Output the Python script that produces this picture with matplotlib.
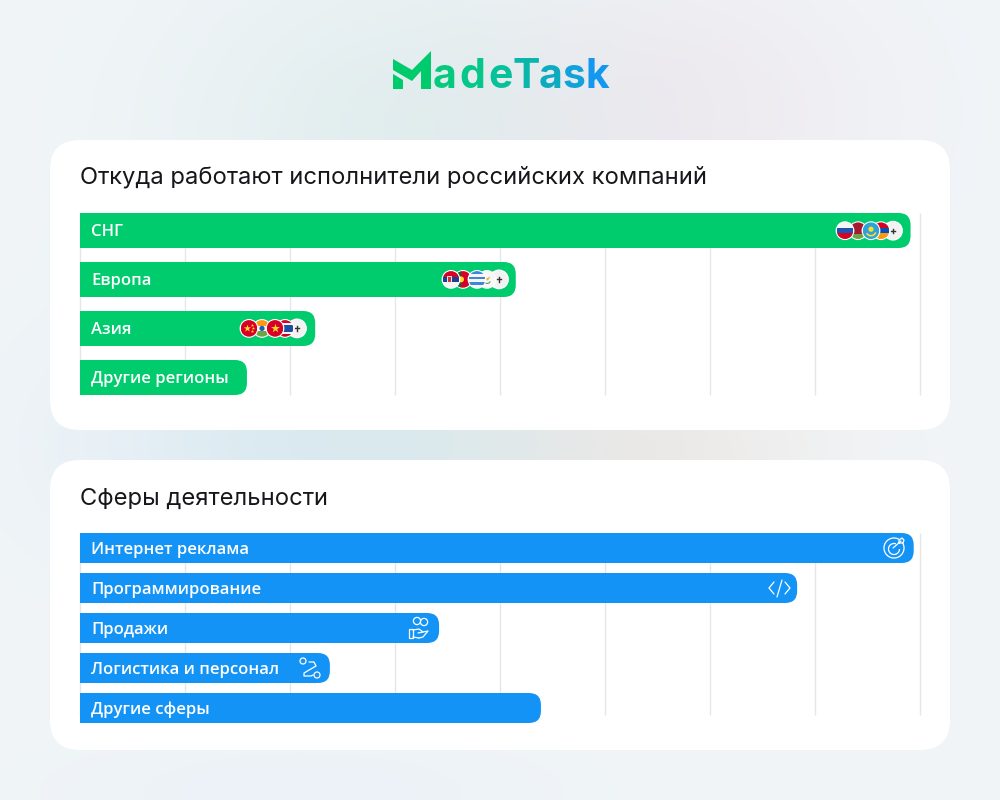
import numpy as np
import matplotlib
matplotlib.use('Agg')
import matplotlib.pyplot as plt
from matplotlib.patches import FancyBboxPatch, Circle, Rectangle, PathPatch, Arc, Polygon
from matplotlib.path import Path

plt.rcParams['font.family'] = ['Inter', 'DejaVu Sans']

title_regions = 'Откуда работают исполнители российских компаний'
regions = ['СНГ', 'Европа', 'Азия', 'Другие регионы']
region_values = [79.1, 41.5, 22.4, 15.9]

title_fields = 'Сферы деятельности'
fields = ['Интернет реклама', 'Программирование', 'Продажи', 'Логистика и персонал', 'Другие сферы']
field_values = [79.4, 68.3, 34.2, 23.8, 43.9]

grid_ticks = [0, 10, 20, 30, 40, 50, 60, 70, 80]

logo_letters = ['a', 'd', 'e', 'T', 'a', 's', 'k']
logo_colors = ['#05c97c', '#05c78a', '#07c19a', '#0ab5aa', '#0dabc0', '#10a2d8', '#1497ee']

GREEN = '#00cc6e'
BLUE = '#1493f7'
GRID = '#e6e6e6'


def px_axes(fig, left, top, right, bottom):
    return fig.add_axes([left / 1000, 1 - bottom / 800, (right - left) / 1000, (bottom - top) / 800])


def round_bar(ax, y, value, height, rx, ry, color):
    top, bot = y - height / 2, y + height / 2
    verts = [(0, top), (value - rx, top), (value, top), (value, top + ry), (value, bot - ry),
             (value, bot), (value - rx, bot), (0, bot), (0, top)]
    codes = [Path.MOVETO, Path.LINETO, Path.CURVE3, Path.CURVE3, Path.LINETO,
             Path.CURVE3, Path.CURVE3, Path.LINETO, Path.CLOSEPOLY]
    ax.add_patch(PathPatch(Path(verts, codes), fc=color, ec='none', zorder=3))


def bar_chart(fig, names, values, top, bottom, grid_bottom, row_h, color):
    ax = px_axes(fig, 80, top, 920, bottom)
    ax.set_zorder(2)
    ax.patch.set_alpha(0)
    ax.set_xlim(0, 80)
    ax.axis('off')
    step = (bottom - top - row_h) / (len(names) - 1)
    h = row_h / step
    ax.set_ylim(len(names) - 1 + h / 2, -h / 2)
    grid_end = -h / 2 + (grid_bottom - top) / step
    ax.vlines(grid_ticks, -h / 2, grid_end, color=GRID, lw=1, zorder=1, clip_on=False)
    for i, (name, val) in enumerate(zip(names, values)):
        round_bar(ax, i, val, row_h / step, 12 / 10.5, 12 / step, color)
        ax.text(11 / 10.5, i - 0.2 / step, name, color='white', fontsize=12.0, fontweight='semibold',
                family=['Open Sans', 'DejaVu Sans'], va='center_baseline', ha='left', zorder=4)
    return ax


fig = plt.figure(figsize=(10, 8), dpi=100)

# background
bg = fig.add_axes([0, 0, 1, 1])
bg.set_xlim(0, 1000)
bg.set_ylim(800, 0)
bg.axis('off')
xx, yy = np.meshgrid(np.arange(0, 1000, 4), np.arange(0, 800, 4))
base = np.array([241, 245, 248], dtype=float)
img = np.ones(xx.shape + (3,)) * base
blobs = [(400, 130, 220, 170, (-15, -7, -9)), (680, 110, 200, 150, (-2, -10, -7)),
         (380, 445, 220, 110, (-20, -9, -8)), (650, 450, 180, 100, (-2, -10, -15)),
         (200, 440, 180, 130, (-7, -4, -1)), (300, 790, 250, 60, (-5, -3, -1))]
for cx, cy, sx, sy, d in blobs:
    g = np.exp(-((xx - cx) / sx) ** 2 - ((yy - cy) / sy) ** 2)
    for k in range(3):
        img[:, :, k] += d[k] * g
bg.imshow(img / 255, extent=(0, 1000, 800, 0), aspect='auto', zorder=0, interpolation='bilinear')

for top, bot in [(140, 430), (460, 750)]:
    bg.add_patch(FancyBboxPatch((50 + 30, top + 30), 840, bot - top - 60,
                                boxstyle='round,pad=30,rounding_size=30', fc='white', ec='none', zorder=1))

bg.text(80, 177.5, title_regions, fontsize=17.08, color='#15171a', va='center', zorder=2)
bg.text(80, 498.5, title_fields, fontsize=17.08, color='#15171a', va='center', zorder=2)

# logo
bg.add_patch(Polygon([(393, 59), (412, 70), (431, 51), (431, 89), (421, 89), (421, 71), (412, 81),
                      (393, 70)], fc='#00cb6c', ec='none', zorder=2))
bg.add_patch(Polygon([(393, 74), (403, 80), (403, 89), (393, 89)], fc='#00cb6c', ec='none', zorder=2))
logo_x = [433, 459, 488, 512, 539, 562, 585]
for ch, c, x in zip(logo_letters, logo_colors, logo_x):
    bg.text(x, 88.5, ch, color=c, fontsize=29.5, fontweight='bold', va='baseline', ha='left', zorder=2)

# bars
bar_chart(fig, regions, region_values, 213, 395, 395, 35, GREEN)
bar_chart(fig, fields, field_values, 533, 723, 715, 30, BLUE)

# overlay for flags and icons
ov = fig.add_axes([0, 0, 1, 1])
ov.set_zorder(3)
ov.patch.set_alpha(0)
ov.set_xlim(0, 1000)
ov.set_ylim(800, 0)
ov.axis('off')


def flag(cx, cy, bands, z, extra=None):
    r = 8.3
    clip = Circle((cx, cy), r, transform=ov.transData)
    ov.add_patch(Circle((cx, cy), r + 1.1, fc='white', ec='none', zorder=z))
    n = sum(b[1] for b in bands)
    pos = cy - r
    for col, w in bands:
        hh = 2 * r * w / n
        p = Rectangle((cx - r, pos), 2 * r, hh, fc=col, ec='none', zorder=z + 0.1)
        p.set_clip_path(clip)
        ov.add_patch(p)
        pos += hh
    if extra:
        extra(cx, cy, z + 0.2, clip)


def plus(cx, cy, z):
    ov.add_patch(Circle((cx, cy), 9.2, fc='#f2f2f2', ec='white', lw=1, zorder=z))
    ov.plot([cx - 2.2, cx + 2.2], [cy, cy], color='#333333', lw=1, zorder=z + 0.1)
    ov.plot([cx, cx], [cy - 2.2, cy + 2.2], color='#333333', lw=1, zorder=z + 0.1)


def star(cx, cy, z, clip):
    ov.scatter([cx], [cy], marker='*', s=45, color='#ffda2c', zorder=z, linewidths=0)


def china(cx, cy, z, clip):
    ov.scatter([cx - 2], [cy], marker='*', s=30, color='#ffda2c', zorder=z, linewidths=0)
    ov.scatter([cx + 3, cx + 4, cx + 3], [cy - 3, cy, cy + 3], marker='*', s=6, color='#ffda2c', zorder=z, linewidths=0)


def chakra(cx, cy, z, clip):
    ov.add_patch(Circle((cx, cy), 2.6, fc='#1a5fb4', ec='none', zorder=z))


def kaz(cx, cy, z, clip):
    ov.add_patch(Circle((cx, cy - 1.5), 2.6, fc='#ffda2c', ec='none', zorder=z))
    ov.add_patch(Arc((cx, cy), 10, 10, theta1=20, theta2=150, color='#ffda2c', lw=1.2, zorder=z))


def serbia(cx, cy, z, clip):
    ov.add_patch(Rectangle((cx - 4.5, cy - 3.5), 4, 6, fc='#c6363c', ec='white', lw=0.6, zorder=z))


def portugal(cx, cy, z, clip):
    p = Rectangle((cx - 9, cy - 9), 7, 18, fc='#0a6a3c', ec='none', zorder=z)
    p.set_clip_path(clip)
    ov.add_patch(p)
    ov.add_patch(Circle((cx - 2, cy), 3, fc='#ffda2c', ec='none', zorder=z + 0.1))


def cyprus(cx, cy, z, clip):
    ov.add_patch(Polygon([(cx - 3.5, cy + 0.5), (cx + 3.5, cy - 3), (cx + 1, cy + 1)], fc='#e8b53a', ec='none', zorder=z))
    ov.add_patch(Arc((cx, cy + 2), 6, 4, theta1=0, theta2=180, color='#5f9a5a', lw=0.8, zorder=z))


rows = [
    (230.7, [(845, [('#f5f5f5', 1), ('#1a56b0', 1), ('#d80027', 1)], None),
             (858, [('#a51931', 7), ('#6da544', 3)], None),
             (871, [('#2ea3d8', 1)], kaz),
             (881, [('#d80027', 1), ('#0052b4', 1), ('#ff9811', 1)], None)], 893),
    (279.4, [(451, [('#d80027', 1), ('#1c3f94', 1), ('#f5f5f5', 1)], serbia),
             (463, [('#d80027', 1)], portugal),
             (477, [('#3e87d8', 1), ('#f5f5f5', 1), ('#3e87d8', 1), ('#f5f5f5', 1), ('#3e87d8', 1), ('#f5f5f5', 1)], None),
             (487, [('#f7f7f7', 1)], cyprus)], 499),
    (328.4, [(249, [('#d80027', 1)], china),
             (262, [('#ff9811', 1), ('#f5f5f5', 1), ('#6da544', 1)], chakra),
             (275, [('#d80027', 1)], star),
             (285, [('#d80027', 1), ('#f5f5f5', 1), ('#1c4fa0', 2.4), ('#f5f5f5', 1), ('#d80027', 1)], None)], 297),
]
for cy, flags, plus_x in rows:
    plus(plus_x, cy, 4)
    order = [3, 1, 2, 0]
    for k, idx in enumerate(order):
        cx, bands, extra = flags[idx]
        flag(cx, cy, bands, 5 + k, extra)

# icons
w = dict(color='white', lw=0.9, zorder=5, solid_capstyle='round')
ov.add_patch(Arc((894, 548), 20, 20, theta1=-35, theta2=300, color='white', lw=0.9, zorder=5))
ov.add_patch(Arc((894, 549), 11, 11, theta1=0, theta2=290, color='white', lw=0.9, zorder=5))
ov.plot([893, 901], [548, 541], **w)
ov.plot([899, 899, 902, 904, 903, 900, 899], [543, 540, 538, 540, 543, 543, 543], **w)

ov.plot([774, 769, 774], [582, 588, 594], **w)
ov.plot([785, 790, 785], [582, 588, 594], **w)
ov.plot([782, 777], [580, 597], **w)

ov.add_patch(Circle((417, 621), 3.6, fc='none', ec='white', lw=0.9, zorder=5))
ov.add_patch(Circle((424, 622), 3.6, fc='none', ec='white', lw=0.9, zorder=5))
ov.add_patch(Rectangle((409, 629), 4, 9, fc='none', ec='white', lw=0.9, zorder=5))
ov.plot([413, 419, 423, 428, 423, 419], [630, 629, 632, 631, 637, 638], **w)
ov.plot([413, 419], [637, 638], **w)
ov.plot([418, 423], [633, 632], **w)

ov.add_patch(Circle((303, 661), 3, fc='none', ec='white', lw=0.9, zorder=5))
ov.add_patch(Circle((317, 675), 3, fc='none', ec='white', lw=0.9, zorder=5))
ov.plot([309, 314, 316, 304, 304, 311, 313], [662, 662, 666, 673, 676, 676, 675], **w)

fig.savefig('out.png', dpi=100)
